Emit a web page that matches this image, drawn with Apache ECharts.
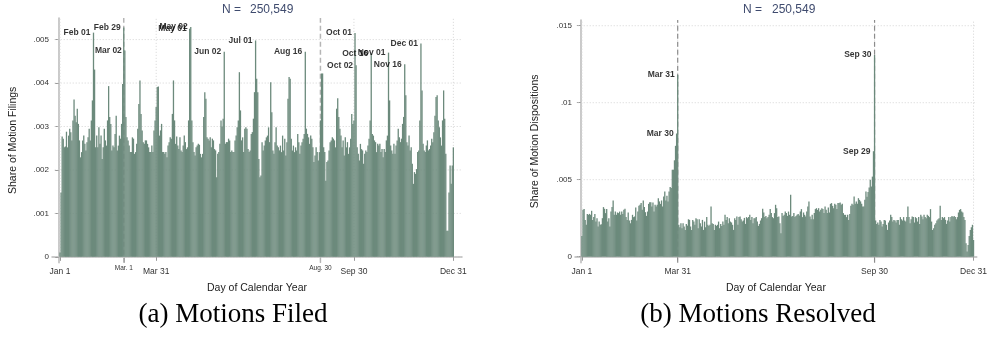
<!DOCTYPE html>
<html><head><meta charset="utf-8">
<script src="https://cdn.jsdelivr.net/npm/echarts@6/dist/echarts.min.js"></script>
<style>html,body{margin:0;padding:0;background:#fff}#c{width:990px;height:354px}</style>
</head><body><div id="c"></div>
<script>
// ---- DATA ----
const filedShare = [
0.0001,0.00148,0.00277,0.00272,0.00252,0.00254,0.00288,0.00252,0.00279,0.00295,
0.00287,0.00268,0.00314,0.00362,0.00325,0.00310,0.00341,0.00306,0.00268,0.00229,
0.00241,0.00268,0.00279,0.0026,0.00245,0.00264,0.00275,0.00295,0.00268,0.00314,
0.00360,0.00516,0.00431,0.00252,0.00279,0.00252,0.00298,0.0026,0.00279,0.00225,
0.00252,0.00295,0.00268,0.00256,0.00314,0.00393,0.00322,0.00306,0.00245,0.00256,
0.00252,0.00283,0.00325,0.00245,0.00256,0.00279,0.00272,0.00306,0.00398,0.00528,
0.00475,0.00322,0.00275,0.00268,0.00256,0.00241,0.00241,0.00275,0.00272,0.00237,
0.00241,0.0026,0.00295,0.00352,0.00406,0.00329,0.00291,0.00264,0.0026,0.00268,
0.00268,0.0026,0.00252,0.00241,0.00241,0.00256,0.00241,0.00291,0.00314,0.00345,
0.00391,0.00392,0.00279,0.00291,0.00306,0.00241,0.00241,0.00237,0.00241,0.00229,
0.00256,0.00264,0.00275,0.00272,0.00329,0.00406,0.00314,0.0026,0.00277,0.00256,
0.00248,0.00275,0.00245,0.00241,0.00256,0.00279,0.00264,0.00248,0.00252,0.00314,
0.00525,0.00529,0.00314,0.00264,0.00241,0.00233,0.00252,0.00256,0.0026,0.00258,
0.00237,0.00229,0.00237,0.00322,0.00379,0.00364,0.00275,0.00272,0.00268,0.00275,
0.00252,0.00272,0.00268,0.00248,0.00245,0.00183,0.00237,0.00241,0.0026,0.00314,
0.00300,0.00318,0.00472,0.0026,0.00264,0.00264,0.00272,0.00268,0.00241,0.00245,
0.00241,0.00241,0.00268,0.00279,0.00298,0.00314,0.00425,0.00337,0.00268,0.00275,
0.00241,0.00295,0.00298,0.00295,0.00248,0.00241,0.00245,0.00283,0.00287,0.00318,
0.00379,0.00498,0.00410,0.00379,0.00225,0.00183,0.00187,0.00264,0.00245,0.00256,
0.00268,0.00275,0.00279,0.00298,0.00264,0.00402,0.00333,0.00245,0.00237,0.00264,
0.00298,0.00256,0.00252,0.00245,0.00256,0.00241,0.00279,0.00245,0.00272,0.00233,
0.00264,0.00364,0.00414,0.0041,0.00272,0.00245,0.00256,0.00241,0.00252,0.00245,
0.00283,0.00264,0.00237,0.00256,0.00264,0.00272,0.00283,0.00472,0.00295,0.00283,
0.00275,0.0026,0.00279,0.00272,0.00252,0.00218,0.00233,0.00252,0.00241,0.00222,
0.00241,0.00314,0.00422,0.00422,0.00252,0.00241,0.00175,0.00218,0.00222,0.00245,
0.00264,0.00268,0.00275,0.00272,0.00268,0.00252,0.00341,0.00365,0.00322,0.00295,
0.00279,0.00252,0.00268,0.00233,0.00275,0.00252,0.00264,0.00237,0.00252,0.00272,
0.00329,0.00306,0.00314,0.00515,0.00441,0.00252,0.00237,0.00222,0.0026,0.00248,
0.00245,0.00214,0.00237,0.00245,0.00241,0.00256,0.00272,0.00314,0.00468,0.00283,
0.00279,0.00268,0.00264,0.00241,0.0026,0.00256,0.0026,0.00241,0.00248,0.00229,
0.00248,0.00241,0.00268,0.00279,0.0047,0.0036,0.00256,0.00245,0.00237,0.0026,
0.00237,0.00256,0.00268,0.00295,0.00275,0.00264,0.00272,0.00306,0.00322,0.00443,
0.00372,0.00264,0.00256,0.00279,0.00245,0.00252,0.00214,0.00168,0.00195,0.00191,
0.00202,0.00241,0.00245,0.00314,0.00491,0.00383,0.0026,0.00245,0.00241,0.00256,
0.00268,0.00245,0.00248,0.00256,0.00272,0.00264,0.00287,0.00325,0.00368,0.00372,
0.00314,0.00298,0.00275,0.00256,0.00314,0.00383,0.00318,0.00237,0.0006,0.0006,
0.00148,0.0021,0.00168,0.0021,0.00252
];
const resolvedShare = [
0.00135,0.00304,0.00309,0.00239,0.00207,0.00278,0.00272,0.00278,0.00272,0.00298,
0.00239,0.00257,0.00278,0.00228,0.0025,0.00196,0.00228,0.00207,0.00211,0.0025,
0.00322,0.00311,0.00283,0.00309,0.00228,0.0025,0.00196,0.00293,0.00322,0.00365,
0.00272,0.00293,0.00272,0.00287,0.00283,0.00293,0.00272,0.00293,0.00278,0.00304,
0.00311,0.00257,0.00239,0.00287,0.00235,0.00217,0.00239,0.00272,0.00257,0.00261,
0.0032,0.00235,0.00293,0.0033,0.00337,0.00348,0.00304,0.00365,0.00322,0.00289,
0.00265,0.00293,0.00343,0.00354,0.00354,0.00326,0.00352,0.00293,0.00337,0.00326,
0.00337,0.0038,0.00359,0.00343,0.00365,0.00326,0.00391,0.00424,0.00365,0.00396,
0.00359,0.00424,0.00452,0.00446,0.00565,0.00565,0.00626,0.0072,0.0080,0.0118,
0.00207,0.00191,0.00217,0.00185,0.00217,0.00196,0.00174,0.00213,0.00202,0.00243,
0.00239,0.00196,0.00174,0.00239,0.00228,0.00207,0.0025,0.00243,0.00185,0.00243,
0.00217,0.00196,0.00239,0.00174,0.00228,0.00191,0.00257,0.00207,0.002,0.00207,
0.00326,0.00217,0.00213,0.00174,0.00207,0.002,0.00207,0.00228,0.00185,0.00213,
0.002,0.00228,0.00207,0.00272,0.00239,0.00257,0.00217,0.0025,0.00228,0.00222,
0.00207,0.00174,0.0025,0.00239,0.00261,0.00207,0.00257,0.00261,0.00243,0.00228,
0.00235,0.00252,0.00213,0.00257,0.0025,0.00257,0.00272,0.00239,0.00257,0.00217,
0.0025,0.0025,0.00257,0.00228,0.002,0.00213,0.00235,0.0025,0.00311,0.00287,
0.00257,0.00265,0.0025,0.00257,0.00272,0.00309,0.00283,0.00257,0.0025,0.00283,
0.00337,0.00315,0.00257,0.00261,0.00217,0.00152,0.00283,0.00265,0.00272,0.00293,
0.00283,0.00265,0.00293,0.00272,0.00402,0.00261,0.00265,0.00283,0.00257,0.00265,
0.00272,0.00278,0.00268,0.00293,0.00309,0.00257,0.00287,0.00272,0.00261,0.00293,
0.00326,0.00359,0.00261,0.00243,0.00272,0.00243,0.00283,0.00309,0.00315,0.00304,
0.00315,0.00293,0.00304,0.00315,0.00309,0.00283,0.00326,0.00304,0.00283,0.0032,
0.00287,0.00343,0.00348,0.0033,0.00315,0.00343,0.00337,0.00309,0.00348,0.00348,
0.00352,0.00337,0.00343,0.00283,0.00272,0.00272,0.00257,0.00272,0.00239,0.00278,
0.0033,0.00343,0.00337,0.00391,0.00343,0.00359,0.00343,0.0038,0.00369,0.00359,
0.00343,0.00326,0.00326,0.0037,0.00424,0.0039,0.0042,0.0045,0.0050,0.00455,
0.0052,0.00685,0.0131,0.00235,0.00213,0.00222,0.00207,0.00239,0.00228,0.00196,
0.00213,0.00239,0.00235,0.00207,0.00174,0.00222,0.00235,0.00272,0.00257,0.00228,
0.00239,0.00235,0.00222,0.00239,0.00239,0.00207,0.00257,0.00243,0.00235,0.00257,
0.00235,0.00228,0.00257,0.00326,0.00257,0.00217,0.00243,0.00261,0.00257,0.00222,
0.00257,0.0025,0.00228,0.00257,0.00213,0.00272,0.00261,0.00243,0.00272,0.00257,
0.0025,0.00272,0.00265,0.00257,0.00309,0.00228,0.00174,0.00185,0.00207,0.00217,
0.00235,0.00243,0.0025,0.0033,0.00239,0.00257,0.0025,0.00257,0.00239,0.00213,
0.00235,0.00257,0.00228,0.00257,0.00265,0.00257,0.00265,0.00257,0.00243,0.00257,
0.00287,0.00304,0.00309,0.00293,0.00287,0.00257,0.00239,0.00087,0.00033,0.00076,
0.00135,0.00174,0.00191,0.00207,0.00109
];
const xTickDays = [1, 90, 273, 365];
const xTickLabels = ['Jan 1', 'Mar 31', 'Sep 30', 'Dec 31'];
const filedRefDays = [60, 242];
const filedRefLabels = ['Mar. 1', 'Aug. 30'];
const resolvedRefDays = [90, 273];
const filedYTicks = [0, 0.001, 0.002, 0.003, 0.004, 0.005];
const resolvedYTicks = [0, 0.005, 0.01, 0.015];
const filedPeakDays = [32, 60, 61, 121, 122, 153, 182, 228, 274, 275, 289, 305, 320, 335];
const filedPeakLabels = ['Feb 01', 'Feb 29', 'Mar 02', 'May 01', 'May 02', 'Jun 02', 'Jul 01', 'Aug 16', 'Oct 01', 'Oct 02', 'Oct 16', 'Nov 01', 'Nov 16', 'Dec 01'];
const resolvedPeakDays = [89, 90, 272, 273];
const resolvedPeakLabels = ['Mar 30', 'Mar 31', 'Sep 29', 'Sep 30'];
const nText = 'N =';
const nValue = '250,549';
const captionA = '(a) Motions Filed';
const captionB = '(b) Motions Resolved';

// ---- CHART ----
const BAR = '#6c8a7c';
const fmtY = v => v === 0 ? '0' : String(+v.toFixed(3)).replace(/^0/, '');
const fmtX = v => { const i = xTickDays.indexOf(v); return i >= 0 ? xTickLabels[i] : ''; };
const FONT = 'Liberation Sans, Arial, sans-serif';

const P = [
  { xMin: -6.4, xMax: 373, yMin: -0.000135, yMax: 0.005497 },
  { xMin: -5.46, xMax: 368.0, yMin: -0.000391, yMax: 0.015372 }
];

function mainX(gi, p) {
  return {
    type: 'value', gridIndex: gi, min: p.xMin, max: p.xMax,
    axisLine: { show: true, lineStyle: { color: '#b9b9b9', width: 1.5 } },
    axisTick: { show: true, customValues: xTickDays, length: 4, lineStyle: { color: '#999' } },
    axisLabel: { customValues: xTickDays, formatter: fmtX, fontSize: 8.5, color: '#333', fontFamily: FONT, margin: 4 },
    splitLine: { show: false },
    name: 'Day of Calendar Year', nameLocation: 'middle', nameGap: 20,
    nameTextStyle: { fontSize: 10.5, color: '#222', fontFamily: FONT }
  };
}
function mainY(gi, p, ticks, name, gap) {
  return {
    type: 'value', gridIndex: gi, min: p.yMin, max: p.yMax,
    axisLine: { show: true, lineStyle: { color: '#b9b9b9', width: 1.5 } },
    axisTick: { show: true, customValues: ticks, length: 4, lineStyle: { color: '#999' } },
    axisLabel: { customValues: ticks, formatter: fmtY, fontSize: 8, color: '#333', fontFamily: FONT, margin: 3 },
    splitLine: { show: false },
    name: name, nameLocation: 'middle', nameGap: gap,
    nameTextStyle: { fontSize: 10.5, color: '#222', fontFamily: FONT }
  };
}
function rule(xi, yi, pts, color, type, width) {
  return {
    type: 'line', xAxisIndex: xi, yAxisIndex: yi, data: pts, z: 1, silent: true,
    symbol: 'none', animation: false,
    lineStyle: { color: color, type: type, width: width }
  };
}
function gridSeries(xi, yi, p, yTicks, refDays, refColor, refWidth) {
  const out = [];
  yTicks.forEach(v => out.push(rule(xi, yi, [[p.xMin + 2.5, v], [p.xMax, v]], '#d4d4d4', [1, 2], 1)));
  xTickDays.forEach(d => out.push(rule(xi, yi, [[d, 0], [d, p.yMax]], '#d4d4d4', [1, 2], 1)));
  refDays.forEach(d => out.push(rule(xi, yi, [[d, p.yMin], [d, p.yMax]], refColor, [5, 3], refWidth)));
  return out;
}
function barSeries(xi, yi, arr) {
  return {
    type: 'bar', xAxisIndex: xi, yAxisIndex: yi, z: 3, barWidth: 1.3,
    data: arr.map((v, i) => [i + 1, v]),
    itemStyle: { color: BAR }, animation: false, silent: true
  };
}
function labelSeries(xi, yi, arr, days, texts) {
  return {
    type: 'scatter', xAxisIndex: xi, yAxisIndex: yi, z: 5, symbolSize: 0, silent: true,
    data: days.map((d, i) => ({ value: [d, arr[d - 1]], label: { formatter: texts[i] } })),
    label: { show: true, position: 'left', distance: 3, offset: [0, -5], fontSize: 8.5, fontWeight: 'bold', color: '#000', fontFamily: FONT },
    labelLayout: { hideOverlap: false },
    animation: false
  };
}

const chart = echarts.init(document.getElementById('c'), null, { renderer: 'canvas' });
chart.setOption({
  animation: false,
  backgroundColor: '#fff',
  grid: [
    { left: 52, top: 18, width: 410, height: 244.7 },
    { left: 575, top: 20, width: 405, height: 242.7 }
  ],
  xAxis: [
    mainX(0, P[0]),
    {
      type: 'value', gridIndex: 0, min: P[0].xMin, max: P[0].xMax, position: 'bottom',
      axisLine: { show: false },
      axisTick: { show: true, inside: true, customValues: filedRefDays, length: 5, lineStyle: { color: '#999' } },
      axisLabel: { customValues: filedRefDays, formatter: v => filedRefLabels[filedRefDays.indexOf(v)], fontSize: 6.5, color: '#333', fontFamily: FONT, margin: 2 },
      splitLine: { show: false }
    },
    mainX(1, P[1])
  ],
  yAxis: [
    mainY(0, P[0], filedYTicks, 'Share of Motion Filings', 33),
    mainY(1, P[1], resolvedYTicks, 'Share of Motion Dispositions', 34)
  ],
  series: [
    ...gridSeries(0, 0, P[0], filedYTicks, filedRefDays, '#b5b5b5', 1.5),
    barSeries(0, 0, filedShare),
    labelSeries(0, 0, filedShare, filedPeakDays, filedPeakLabels),
    ...gridSeries(2, 1, P[1], resolvedYTicks, resolvedRefDays, '#8c8c8c', 1.2),
    barSeries(2, 1, resolvedShare),
    labelSeries(2, 1, resolvedShare, resolvedPeakDays, resolvedPeakLabels)
  ],
  graphic: [
    { type: 'text', left: 222, top: 4, style: { text: nText, fontSize: 12, fill: '#3f4b6e', fontFamily: FONT } },
    { type: 'text', left: 250, top: 4, style: { text: nValue, fontSize: 12, fill: '#3f4b6e', fontFamily: FONT } },
    { type: 'text', left: 743, top: 4, style: { text: nText, fontSize: 12, fill: '#3f4b6e', fontFamily: FONT } },
    { type: 'text', left: 772, top: 4, style: { text: nValue, fontSize: 12, fill: '#3f4b6e', fontFamily: FONT } },
    { type: 'text', x: 233, y: 315, style: { text: captionA, fontSize: 27, fill: '#000', fontFamily: 'Liberation Serif, DejaVu Serif, serif', align: 'center', verticalAlign: 'middle' } },
    { type: 'text', x: 758, y: 315, style: { text: captionB, fontSize: 27, fill: '#000', fontFamily: 'Liberation Serif, DejaVu Serif, serif', align: 'center', verticalAlign: 'middle' } }
  ]
});
</script>
</body></html>
